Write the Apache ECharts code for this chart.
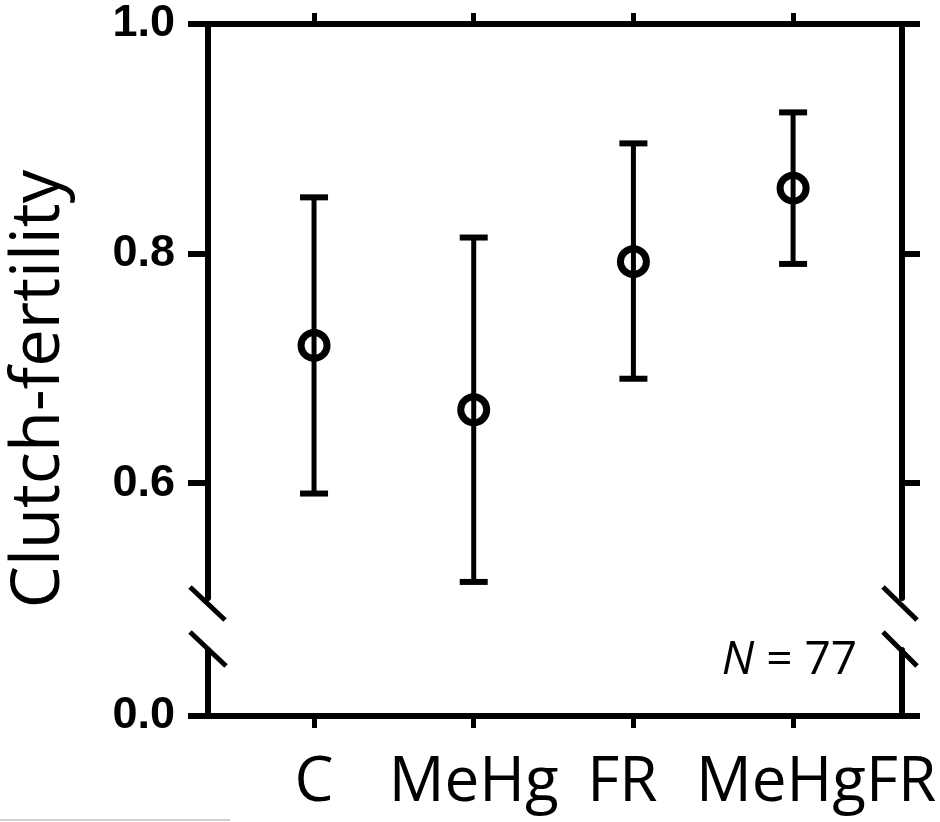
<!DOCTYPE html>
<html>
<head>
<meta charset="utf-8">
<title>Clutch-fertility</title>
<script src="https://cdn.jsdelivr.net/npm/echarts@6/dist/echarts.min.js"></script>
<style>
  html, body { margin: 0; padding: 0; background: #fff; }
  #chart { width: 940px; height: 822px; }
</style>
</head>
<body>
<div id="chart"></div>
<script>
const groups = ['C', 'MeHg', 'FR', 'MeHgFR'];
const groupPos = [1, 2, 3, 4];
const means = [0.720, 0.664, 0.793, 0.857];
const upper = [0.849, 0.814, 0.896, 0.923];
const lower = [0.591, 0.514, 0.691, 0.791];
const yTicksTop = [0.6, 0.8, 1.0];
const yTicksBottom = [0];

const black = '#000';
const axisW = 6;

const myChart = echarts.init(document.getElementById('chart'));

const pointData = groupPos.map((x, i) => [x, means[i]]);
const errData = groupPos.map((x, i) => [x, lower[i], upper[i]]);

function breakMark(x1, y1, x2, y2) {
  return {
    type: 'line',
    shape: { x1: x1, y1: y1, x2: x2, y2: y2 },
    style: { stroke: black, lineWidth: 5 },
    z: 10
  };
}

// labels in the figure sit a bit off their ticks
const labelStyles = {
  a: { padding: [0, 0, 0, 0] },
  b: { padding: [0, 22, 0, 0] },
  c: { padding: [0, 0, 0, 46] }
};
const labelKey = { C: 'a', MeHg: 'a', FR: 'b', MeHgFR: 'c' };

const option = {
  backgroundColor: '#fff',
  animation: false,
  grid: [
    { left: 208, right: 38, top: 24, height: 574 },
    { left: 208, right: 38, top: 650, height: 66 }
  ],
  xAxis: [
    {
      gridIndex: 0,
      type: 'value',
      position: 'top',
      min: 0.336,
      max: 4.682,
      axisLine: { show: true, lineStyle: { color: black, width: axisW } },
      axisTick: { show: true, customValues: groupPos, length: 11, lineStyle: { color: black, width: 5 } },
      axisLabel: { show: false },
      splitLine: { show: false }
    },
    {
      gridIndex: 1,
      type: 'value',
      position: 'bottom',
      min: 0.336,
      max: 4.682,
      axisLine: { show: true, lineStyle: { color: black, width: axisW } },
      axisTick: { show: true, customValues: groupPos, length: 12, lineStyle: { color: black, width: 5 } },
      axisLabel: {
        show: true,
        customValues: groupPos,
        formatter: v => {
          const name = groups[Math.round(v) - 1];
          return '{' + labelKey[name] + '|' + name + '}';
        },
        rich: labelStyles,
        color: black,
        fontFamily: 'Open Sans',
        fontSize: 62,
        margin: 36
      },
      splitLine: { show: false }
    }
  ],
  yAxis: [
    {
      gridIndex: 0,
      type: 'value',
      position: 'left',
      min: 0.5,
      max: 1.0,
      axisLine: { show: true, lineStyle: { color: black, width: axisW } },
      axisTick: { show: true, customValues: yTicksTop, length: 20, lineStyle: { color: black, width: axisW } },
      axisLabel: {
        show: true,
        customValues: yTicksTop,
        formatter: v => v.toFixed(1),
        color: black,
        fontFamily: 'Liberation Sans',
        fontWeight: 'bold',
        fontSize: 45,
        margin: 33
      },
      splitLine: { show: false }
    },
    {
      gridIndex: 0,
      type: 'value',
      position: 'right',
      min: 0.5,
      max: 1.0,
      axisLine: { show: true, lineStyle: { color: black, width: axisW } },
      axisTick: { show: true, customValues: yTicksTop, length: 18, lineStyle: { color: black, width: axisW } },
      axisLabel: { show: false },
      splitLine: { show: false }
    },
    {
      gridIndex: 1,
      type: 'value',
      position: 'left',
      min: 0,
      max: 0.1,
      axisLine: { show: true, lineStyle: { color: black, width: axisW } },
      axisTick: { show: true, customValues: yTicksBottom, length: 20, lineStyle: { color: black, width: axisW } },
      axisLabel: {
        show: true,
        customValues: yTicksBottom,
        formatter: v => v.toFixed(1),
        color: black,
        fontFamily: 'Liberation Sans',
        fontWeight: 'bold',
        fontSize: 45,
        margin: 33
      },
      splitLine: { show: false }
    },
    {
      gridIndex: 1,
      type: 'value',
      position: 'right',
      min: 0,
      max: 0.1,
      axisLine: { show: true, lineStyle: { color: black, width: axisW } },
      axisTick: { show: true, customValues: yTicksBottom, length: 18, lineStyle: { color: black, width: axisW } },
      axisLabel: { show: false },
      splitLine: { show: false }
    }
  ],
  series: [
    {
      // mean rings, under the bars so the bar shows through the hole
      type: 'scatter',
      xAxisIndex: 0,
      yAxisIndex: 0,
      data: pointData,
      symbol: 'circle',
      symbolSize: 26,
      itemStyle: { color: '#fff', borderColor: black, borderWidth: 7, opacity: 1 },
      z: 1
    },
    {
      type: 'custom',
      xAxisIndex: 0,
      yAxisIndex: 0,
      data: errData,
      z: 5,
      renderItem: (params, api) => {
        const x = api.value(0);
        const lo = api.coord([x, api.value(1)]);
        const hi = api.coord([x, api.value(2)]);
        const half = 14;
        return {
          type: 'group',
          children: [
            { type: 'rect', shape: { x: lo[0] - 2.5, y: hi[1], width: 5, height: lo[1] - hi[1] }, style: { fill: black } },
            { type: 'rect', shape: { x: hi[0] - half, y: hi[1] - 3, width: half * 2, height: 6 }, style: { fill: black } },
            { type: 'rect', shape: { x: lo[0] - half, y: lo[1] - 3, width: half * 2, height: 6 }, style: { fill: black } }
          ]
        };
      }
    }
  ],
  graphic: [
    {
      type: 'text',
      x: 40,
      y: 389,
      rotation: Math.PI / 2,
      style: {
        text: 'Clutch-fertility',
        fill: black,
        font: '67px "Open Sans"',
        textAlign: 'center',
        textVerticalAlign: 'middle'
      }
    },
    {
      type: 'text',
      right: 83,
      top: 638,
      style: {
        rich: {
          i: { font: 'italic 46px "Open Sans"', fill: black }
        },
        text: '{i|N} = 77',
        font: '46px "Open Sans"',
        fill: black
      }
    },
    breakMark(190, 587, 225, 620),
    breakMark(190, 632, 226, 666),
    breakMark(883, 587, 917, 620),
    breakMark(883, 632, 917, 666),
    {
      type: 'line',
      shape: { x1: 0, y1: 820, x2: 230, y2: 820 },
      style: { stroke: '#d0d0d0', lineWidth: 2 }
    }
  ]
};

myChart.setOption(option);
</script>
</body>
</html>
